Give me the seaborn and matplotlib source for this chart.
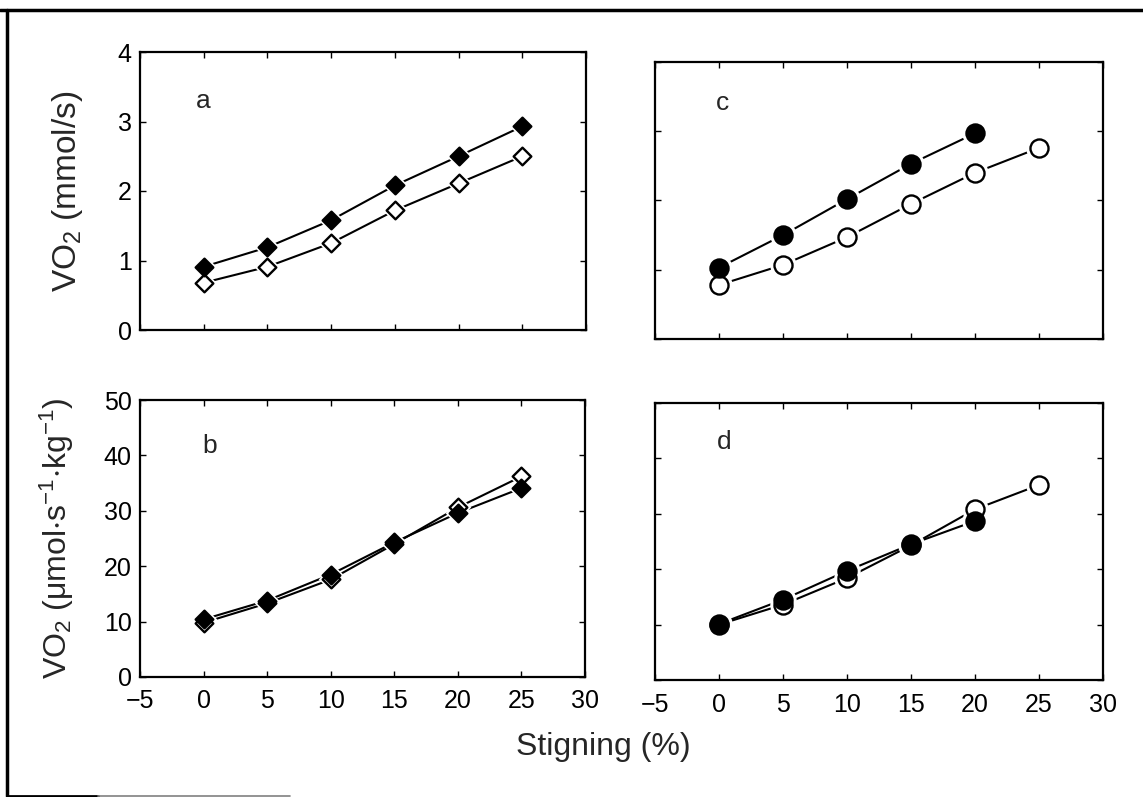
import numpy as np
import matplotlib
matplotlib.use('Agg')
import matplotlib.pyplot as plt
import seaborn as sns
from matplotlib.lines import Line2D

# Data
grade = [0, 5, 10, 15, 20, 25]
grade_short = [0, 5, 10, 15, 20]

a_filled = [0.91, 1.19, 1.58, 2.08, 2.50, 2.93]
a_open = [0.68, 0.91, 1.25, 1.72, 2.11, 2.50]

b_filled = [10.4, 13.8, 18.5, 24.3, 29.6, 34.1]
b_open = [9.8, 13.3, 17.6, 24.0, 30.6, 36.2]

c_filled = [1.03, 1.50, 2.02, 2.53, 2.97]
c_open = [0.78, 1.07, 1.47, 1.95, 2.40, 2.76]

d_filled = [10.1, 14.5, 19.7, 24.5, 28.7]
d_open = [10.0, 13.6, 18.4, 24.3, 30.8, 35.2]

xticks = [-5, 0, 5, 10, 15, 20, 25, 30]
yticks_top = [0, 1, 2, 3, 4]
yticks_bot = [0, 10, 20, 30, 40, 50]

sns.set_style('ticks')
plt.rcParams['font.family'] = ['Liberation Sans', 'DejaVu Sans']
plt.rcParams['mathtext.fontset'] = 'custom'
plt.rcParams['mathtext.rm'] = 'Liberation Sans'
plt.rcParams['mathtext.it'] = 'Liberation Sans:italic'
plt.rcParams['mathtext.default'] = 'regular'

W, H = 1143, 797
fig = plt.figure(figsize=(W / 100, H / 100), dpi=100)


def box(l, r, t, b):
    return [l / W, 1 - b / H, (r - l) / W, (b - t) / H]


ax_a = fig.add_axes(box(140, 586, 52, 330))
ax_c = fig.add_axes(box(655, 1103, 62, 339))
ax_b = fig.add_axes(box(140, 585, 400, 677))
ax_d = fig.add_axes(box(655, 1103, 403, 680))


def series(ax, x, y, marker, filled, size, halo):
    sns.lineplot(x=x, y=y, ax=ax, color='black', lw=1.5, zorder=2)
    # white halo so the line stops short of the marker
    sns.scatterplot(x=x, y=y, ax=ax, marker=marker, s=(size + halo) ** 2,
                    color='white', edgecolor='white', linewidth=0, zorder=3)
    sns.scatterplot(x=x, y=y, ax=ax, marker=marker, s=size ** 2,
                    color='black' if filled else 'white', edgecolor='black',
                    linewidth=1.7, zorder=4)


series(ax_a, grade, a_open, 'D', False, 9, 4)
series(ax_a, grade, a_filled, 'D', True, 9, 4)
series(ax_b, grade, b_open, 'D', False, 9, 4)
series(ax_b, grade, b_filled, 'D', True, 9, 4)
series(ax_c, grade, c_open, 'o', False, 13, 6)
series(ax_c, grade_short, c_filled, 'o', True, 13, 6)
series(ax_d, grade, d_open, 'o', False, 13, 6)
series(ax_d, grade_short, d_filled, 'o', True, 13, 6)

for ax, yt in [(ax_a, yticks_top), (ax_c, yticks_top),
               (ax_b, yticks_bot), (ax_d, yticks_bot)]:
    ax.set_xlim(-5, 30)
    ax.set_ylim(yt[0], yt[-1])
    ax.set_xticks(xticks)
    ax.set_yticks(yt)
    ax.tick_params(direction='in', top=True, right=True, length=4.5,
                   width=1.0, labelsize=18, color='black', labelcolor='black')
    ax.tick_params(axis='y', pad=6)
    ax.tick_params(axis='x', pad=9)
    for sp in ax.spines.values():
        sp.set_linewidth(1.6)
        sp.set_color('black')
    ax.set_xlabel('')
    ax.set_ylabel('')

ax_a.tick_params(labelbottom=False)
ax_c.tick_params(labelbottom=False, labelleft=False)
ax_d.tick_params(labelleft=False)

ax_a.text(0, 3.3, 'a', fontsize=19, ha='center', va='center')
ax_c.text(0.25, 3.41, 'c', fontsize=19, ha='center', va='center')
ax_b.text(0.5, 41.7, 'b', fontsize=19, ha='center', va='center')
ax_d.text(0.4, 42.9, 'd', fontsize=19, ha='center', va='center')

ax_a.set_ylabel(r'VO$_2$ (mmol/s)', fontsize=24)
ax_a.yaxis.set_label_coords(-0.123, 0.5)
ax_b.set_ylabel(r'VO$_2$ ($\mu$mol$\cdot$s$^{-1}$$\cdot$kg$^{-1}$)', fontsize=23)
ax_b.yaxis.set_label_coords(-0.1435, 0.5)

fig.text(603 / W, 1 - 747 / H, 'Stigning (%)', fontsize=23, ha='center', va='center')

# outer frame of the scanned figure
fig.add_artist(Line2D([0, 1], [1 - 10 / H, 1 - 10 / H], color='black', lw=2.5))
fig.add_artist(Line2D([7 / W, 7 / W], [1 - 10 / H, 1 - 796 / H], color='black', lw=2.5))
fig.add_artist(Line2D([7 / W, 98 / W], [1 - 796 / H, 1 - 796 / H], color='black', lw=2.0))
fig.add_artist(Line2D([98 / W, 290 / W], [1 - 796 / H, 1 - 796 / H], color='0.5', lw=1.2))

fig.savefig('out.png', dpi=100, facecolor='white')
